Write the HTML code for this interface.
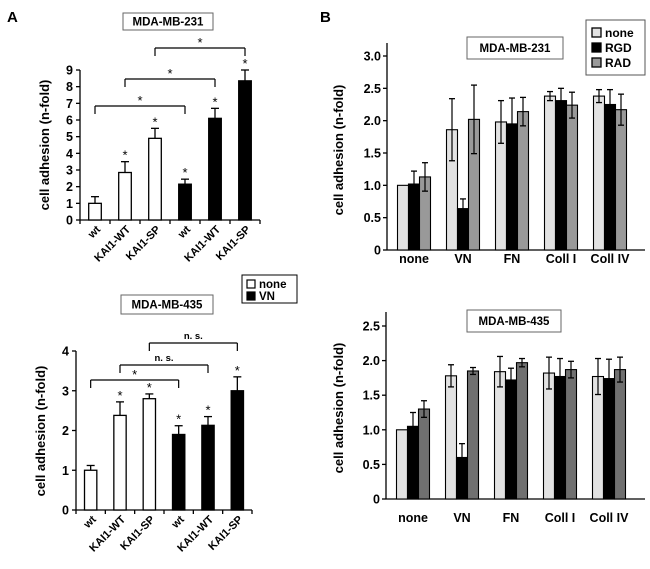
<!DOCTYPE html>
<html><head><meta charset="utf-8"><style>
html,body{margin:0;padding:0;background:#fff;}
svg{display:block;font-family:"Liberation Sans",Arial,sans-serif;font-weight:bold;}
</style></head><body>
<svg id="fig" width="650" height="569" viewBox="0 0 650 569" xmlns="http://www.w3.org/2000/svg"></svg>
<script>
// Panel A top (MDA-MB-231)
const aCategories = ["wt","KAI1-WT","KAI1-SP","wt","KAI1-WT","KAI1-SP"];
const aTopValues = [1.0,2.85,4.9,2.15,6.1,8.35];
const aTopErrors = [0.4,0.65,0.6,0.3,0.6,0.65];
const aTopTicks = [0,1,2,3,4,5,6,7,8,9];
// Panel A bottom (MDA-MB-435)
const aBotValues = [1.0,2.38,2.8,1.9,2.13,3.0];
const aBotErrors = [0.12,0.34,0.12,0.22,0.22,0.35];
const aBotTicks = [0,1,2,3,4];
const aStars = [false,true,true,true,true,true];
const aBrackets = [[0,3],[1,4],[2,5]];
const aTopBracketLabels = ["*","*","*"];
const aBotBracketLabels = ["*","n. s.","n. s."];
// Panel B
const bGroups = ["none","VN","FN","Coll I","Coll IV"];
const bSeries = ["none","RGD","RAD"];
const bTopValues = [[1.0,1.02,1.13],[1.86,0.64,2.02],[1.98,1.95,2.14],[2.38,2.31,2.24],[2.38,2.25,2.17]];
const bTopErrors = [[0,0.2,0.22],[0.48,0.15,0.53],[0.33,0.4,0.22],[0.07,0.19,0.2],[0.1,0.23,0.24]];
const bTopTicks = ["0","0.5","1.0","1.5","2.0","2.5","3.0"];
const bBotValues = [[1.0,1.05,1.3],[1.78,0.6,1.85],[1.84,1.72,1.97],[1.82,1.77,1.87],[1.77,1.74,1.87]];
const bBotErrors = [[0,0.2,0.12],[0.16,0.2,0.05],[0.22,0.17,0.06],[0.23,0.26,0.12],[0.26,0.28,0.18]];
const bBotTicks = ["0","0.5","1.0","1.5","2.0","2.5"];

const svg=document.getElementById('fig');
const NS='http://www.w3.org/2000/svg';
function mk(tag,attrs,parent,text){const e=document.createElementNS(NS,tag);for(const k in attrs)e.setAttribute(k,attrs[k]);if(text!==undefined)e.textContent=text;(parent||svg).appendChild(e);return e;}
function line(g,x1,y1,x2,y2,w){return mk('line',{x1,y1,x2,y2,stroke:'#000','stroke-width':w||1.3},g);}
function boxLabel(g,x1,y1,x2,y2,txt,name){
  const r=mk('rect',{x:x1,y:y1,width:x2-x1,height:y2-y1,fill:'#fff',stroke:'#666','stroke-width':1},g);
  
  const t=mk('text',{x:(x1+x2)/2,y:(y1+y2)/2+4,'text-anchor':'middle','font-size':11.5},g,txt);
  
}
function yTitle(g,x,y){const t=mk('text',{x:0,y:0,transform:`translate(${x},${y}) rotate(-90)`,'text-anchor':'middle','font-size':13},g,'cell adhesion (n-fold)');}

function panelA(name,ax,ax2,y0,yTopVal,yTopPx,ticks,vals,errs,brLevels,brLabels){
  const g=mk('g',{});
  const sy=v=>y0-(v/yTopVal)*(y0-yTopPx);
  const step=(ax2-ax)/aCategories.length;
  const cx=i=>ax+step*(i+0.5);
  const bw=step*0.42;
  line(g,ax,sy(ticks[ticks.length-1]),ax,y0);
  line(g,ax,y0,ax2,y0);
  ticks.forEach(t=>{line(g,ax-4,sy(t),ax,sy(t));const tl=mk('text',{x:ax-7,y:sy(t)+4.5,'text-anchor':'end','font-size':12.5},g,t);});
  for(let i=0;i<=aCategories.length;i++)line(g,ax+step*i,y0,ax+step*i,y0+4);
  vals.forEach((v,i)=>{
    const top=sy(v),et=sy(v+errs[i]);
    line(g,cx(i),et,cx(i),top,1.3);line(g,cx(i)-4,et,cx(i)+4,et,1.3);
    const b=mk('rect',{x:cx(i)-bw/2,y:top,width:bw,height:y0-top,fill:i<3?'#fff':'#000',stroke:'#000','stroke-width':1.3},g);
    
    if(aStars[i]){const s=mk('text',{x:cx(i),y:et-2,'text-anchor':'middle','font-size':13,'font-weight':'normal'},g,'*');}
    const xl=mk('text',{x:0,y:0,transform:`translate(${cx(i)+6},${y0+10}) rotate(-45)`,'text-anchor':'end','font-size':11},g,aCategories[i]);
  });
  aBrackets.forEach((br,k)=>{
    const yb=brLevels[k];
    line(g,cx(br[0]),yb,cx(br[1]),yb,1.2);line(g,cx(br[0]),yb,cx(br[0]),yb+8,1.2);line(g,cx(br[1]),yb,cx(br[1]),yb+8,1.2);
    const lbl=brLabels[k];
    const t=mk('text',{x:(cx(br[0])+cx(br[1]))/2,y:lbl==='*'?yb-1:yb-4,'text-anchor':'middle','font-size':lbl==='*'?13:9.5,'font-weight':lbl==='*'?'normal':'bold'},g,lbl);
    
  });
  return g;
}
const gA1=panelA('panel-a-mda-mb-231',80,260,220,9,70,aTopTicks,aTopValues,aTopErrors,[106,79,48],aTopBracketLabels);
yTitle(gA1,49,145);boxLabel(gA1,123,13,213,30,'MDA-MB-231','chart-title');
const gA2=panelA('panel-a-mda-mb-435',76,252,510,4,351,aBotTicks,aBotValues,aBotErrors,[380,365,343],aBotBracketLabels);
yTitle(gA2,45,431);boxLabel(gA2,121,295,213,314,'MDA-MB-435','chart-title');
(function(){const g=mk('g',{});
mk('rect',{x:242,y:275,width:55,height:28,fill:'#fff',stroke:'#000','stroke-width':1},g);
[['none','#fff'],['VN','#000']].forEach((e,i)=>{const y=280+i*12;const r=mk('rect',{x:247,y:y,width:8,height:8,fill:e[1],stroke:'#000','stroke-width':1.2},g);const t=mk('text',{x:259,y:y+8,'font-size':11.5},g,e[0]);});})();
const pa=mk('text',{x:7,y:22,'font-size':15},svg,'A');
const pb=mk('text',{x:320,y:22,'font-size':15},svg,'B');

function panelB(name,ax,ax2,y0,axTop,ticks,tickMax,pxMax,vals,errs,radColor,labY){
  const g=mk('g',{});
  const sy=v=>y0-(v/tickMax)*(y0-pxMax);
  const colors=['#e2e2e2','#000',radColor];
  line(g,ax,axTop,ax,y0);line(g,ax,y0,ax2,y0);
  ticks.forEach(t=>{const v=parseFloat(t);line(g,ax-4,sy(v),ax,sy(v));const tl=mk('text',{x:ax-6,y:sy(v)+4.5,'text-anchor':'end','font-size':12.5},g,t);});
  const gstep=49,bw=11;
  bGroups.forEach((gn,gi)=>{
    const gc=ax+27+gstep*gi;
    const xl=mk('text',{x:gc,y:labY,'text-anchor':'middle','font-size':12.5},g,gn);
    vals[gi].forEach((v,si)=>{
      const x=gc-1.5*bw+si*bw,top=sy(v);
      const b=mk('rect',{x:x,y:top,width:bw,height:y0-top,fill:colors[si],stroke:'#000','stroke-width':1.1},g);
      
      const e=errs[gi][si];
      if(e>0){const c=x+bw/2;line(g,c,sy(v+e),c,sy(v-e),1.2);line(g,c-3,sy(v+e),c+3,sy(v+e),1.3);line(g,c-3,sy(v-e),c+3,sy(v-e),1.3);}
    });
  });
  return g;
}
const gB1=panelB('panel-b-mda-mb-231',387,645,250,43,bTopTicks,3,56,bTopValues,bTopErrors,'#999',263);
yTitle(gB1,343,150);boxLabel(gB1,467,37,563,59,'MDA-MB-231','chart-title');
const gB2=panelB('panel-b-mda-mb-435',386,645,499,312,bBotTicks,2.5,326,bBotValues,bBotErrors,'#707070',522);
yTitle(gB2,343,408);boxLabel(gB2,467,310,561,332,'MDA-MB-435','chart-title');
(function(){const g=mk('g',{});
mk('rect',{x:586,y:20,width:59,height:55,fill:'#fff',stroke:'#555','stroke-width':1},g);
[['none','#e2e2e2'],['RGD','#000'],['RAD','#999']].forEach((e,i)=>{const y=28+i*15;const r=mk('rect',{x:592,y:y,width:9,height:9,fill:e[1],stroke:'#000','stroke-width':1.3},g);const t=mk('text',{x:605,y:y+9,'font-size':12},g,e[0]);});})();
</script>
</body></html>
